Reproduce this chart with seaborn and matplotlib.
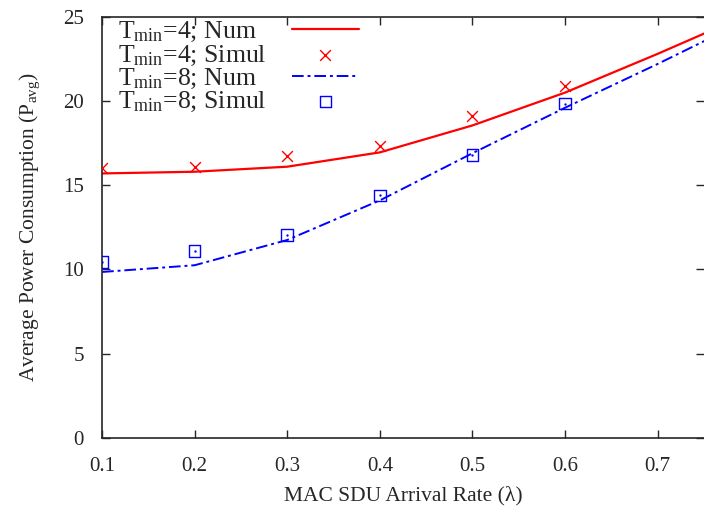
import numpy as np
import pandas as pd
import matplotlib
matplotlib.use("Agg")
import matplotlib.pyplot as plt
from matplotlib.lines import Line2D
import seaborn as sns

# Data
lam_num = [0.1, 0.2, 0.3, 0.4, 0.5, 0.6, 0.7, 0.8]
num_t4 = [15.7, 15.8, 16.1, 16.95, 18.55, 20.5, 22.8, 25.2]
num_t8 = [9.85, 10.25, 11.75, 14.1, 16.9, 19.6, 22.2, 24.9]

lam_sim = [0.1, 0.2, 0.3, 0.4, 0.5, 0.6]
sim_t4 = [16.0, 16.1, 16.75, 17.3, 19.1, 20.9]
sim_t8 = [10.45, 11.1, 12.05, 14.4, 16.8, 19.85]

labels = [r'T$_{\mathrm{min}}$=4; Num', r'T$_{\mathrm{min}}$=4; Simul',
          r'T$_{\mathrm{min}}$=8; Num', r'T$_{\mathrm{min}}$=8; Simul']

sns.set_style("ticks")
plt.rcParams['font.family'] = ['Liberation Serif', 'DejaVu Serif']
plt.rcParams['mathtext.fontset'] = 'custom'
plt.rcParams['mathtext.rm'] = 'Liberation Serif'
plt.rcParams['mathtext.it'] = 'Liberation Serif:italic'

fig = plt.figure(figsize=(7.04, 5.08), dpi=100)
ax = fig.add_axes([0.145, 0.138, 0.855, 0.829])

df_num = pd.DataFrame({'lam': lam_num, 't4': num_t4, 't8': num_t8})
df_sim = pd.DataFrame({'lam': lam_sim, 't4': sim_t4, 't8': sim_t8})

sns.lineplot(data=df_num, x='lam', y='t4', ax=ax, color='#ff0000', lw=1.6,
             label=labels[0], legend=False)
ax.scatter(df_sim['lam'], df_sim['t4'], marker='x', color='#ff0000', s=60,
           linewidths=1.0, label=labels[1], zorder=3)
sns.lineplot(data=df_num, x='lam', y='t8', ax=ax, color='#0000ff', lw=1.4,
             label=labels[2], legend=False)
ax.lines[-1].set_dashes([6, 2, 1.5, 2])
ax.scatter(df_sim['lam'], df_sim['t8'], marker='s', facecolors='none',
           edgecolors='#0000ff', s=70, linewidths=1.0, label=labels[3], zorder=3)
ax.scatter(df_sim['lam'], df_sim['t8'], marker='.', color='#0000ff', s=2, zorder=3)

ax.set_xlim(0.1, 0.75)
ax.set_ylim(0, 25)
ax.set_xticks([0.1, 0.2, 0.3, 0.4, 0.5, 0.6, 0.7])
ax.set_yticks([0, 5, 10, 15, 20, 25])
ax.tick_params(direction='in', top=True, right=True, labelsize=15, length=6, width=1)
ax.tick_params(axis='x', pad=14)
ax.tick_params(axis='y', pad=13)
for s in ['top', 'left', 'bottom']:
    ax.spines[s].set_linewidth(1.2)
ax.spines['right'].set_visible(False)

ax.set_xlabel('MAC SDU Arrival Rate (λ)', fontsize=15.5, labelpad=7)
ax.set_ylabel(r'Average Power Consumption (P$_{\mathrm{avg}}$)', fontsize=15.5, labelpad=15)

# gnuplot-style key: text left-aligned, samples on the right
handles = ax.get_legend_handles_labels()[0][:4]
leg_kw = dict(loc='upper left', frameon=False, fontsize=18.5, labelspacing=-0.03,
              borderaxespad=0, bbox_to_anchor=(0.009, 1.016))
leg_a = ax.legend(handles, labels, markerfirst=False, handlelength=2.6,
                  handletextpad=1.0, **leg_kw)
for t in leg_a.get_texts():
    t.set_alpha(0)
ax.add_artist(leg_a)
blank = [Line2D([], [], color='none') for _ in labels]
ax.legend(blank, labels, handlelength=0, handletextpad=0, **leg_kw)

fig.savefig('out.png', dpi=100)
